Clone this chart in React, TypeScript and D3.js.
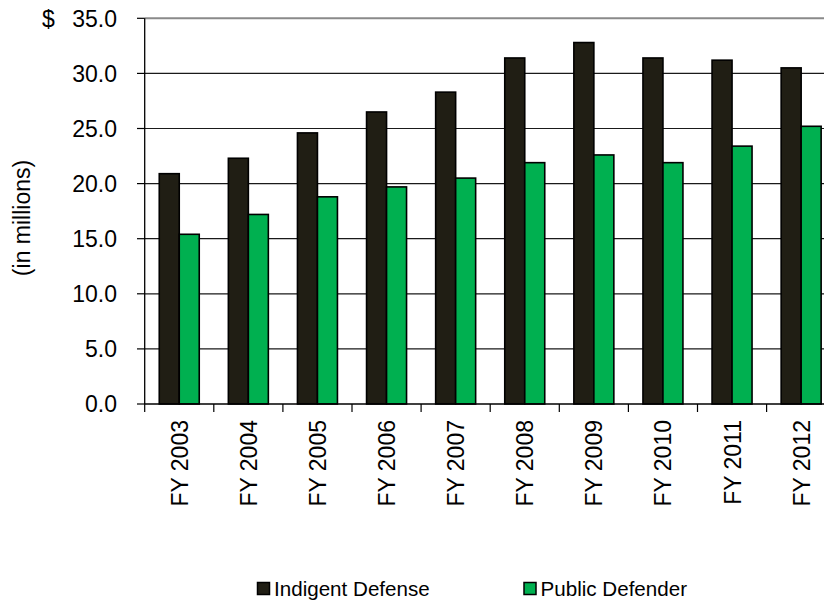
import React from "react";
import * as d3 from "d3";

const years = ["FY 2003", "FY 2004", "FY 2005", "FY 2006", "FY 2007", "FY 2008", "FY 2009", "FY 2010", "FY 2011", "FY 2012"];
const indigentDefense = [20.9, 22.3, 24.6, 26.5, 28.3, 31.4, 32.8, 31.4, 31.2, 30.5];
const publicDefender = [15.4, 17.2, 18.8, 19.7, 20.5, 21.9, 22.6, 21.9, 23.4, 25.2];
const seriesNames = ["Indigent Defense", "Public Defender"];
const seriesColors = ["#201e14", "#00b050"];
const yTicks = [0, 5, 10, 15, 20, 25, 30, 35];

const W = 824;
const H = 603;
const FONT = "'Liberation Sans', Arial, sans-serif";

export default function App() {
  const left = 144.7;
  const step = 69.1;
  const x0 = d3.scaleBand<string>().domain(years).range([left, left + step * years.length]).padding(0);
  const x1 = d3.scaleBand<string>().domain(seriesNames).range([0, x0.bandwidth()]).paddingInner(0).paddingOuter(0.728);
  const y = d3.scaleLinear().domain([0, 35]).range([404, 18.3]);
  const data = [indigentDefense, publicDefender];

  return (
    <svg width={W} height={H} style={{ position: "absolute", left: 0, top: 0, background: "#fff" }} fontFamily={FONT}>
      {/* gridlines */}
      {yTicks.filter((t) => t > 0 && t < 35).map((t) => (
        <line key={t} x1={left} x2={W} y1={y(t)} y2={y(t)} stroke="#1a1a1a" strokeWidth={1.2} />
      ))}
      {/* top border */}
      <line x1={left} x2={W} y1={y(35)} y2={y(35)} stroke="#8a8a8a" strokeWidth={2} />
      {/* bars */}
      {data.map((vals, si) =>
        vals.map((v, i) => (
          <rect
            key={`${si}-${i}`}
            x={(x0(years[i]) as number) + (x1(seriesNames[si]) as number)}
            y={y(v)}
            width={x1.bandwidth()}
            height={y(0) - y(v)}
            fill={seriesColors[si]}
            stroke="#000"
            strokeWidth={1.6}
          />
        ))
      )}
      {/* y axis */}
      <line x1={left} x2={left} y1={y(35)} y2={y(0)} stroke="#000" strokeWidth={1.3} />
      {yTicks.map((t) => (
        <g key={t}>
          <line x1={137} x2={left} y1={y(t)} y2={y(t)} stroke="#000" strokeWidth={1.2} />
          <text x={117} y={y(t) + 8.2} textAnchor="end" fontSize={23} fill="#000">
            {t.toFixed(1)}
          </text>
        </g>
      ))}
      <text x={42} y={26.5} fontSize={23} fill="#000">$</text>
      <text transform={`translate(30,218) rotate(-90)`} textAnchor="middle" fontSize={23} fill="#000">
        (in millions)
      </text>
      {/* x axis */}
      <line x1={left} x2={W} y1={y(0)} y2={y(0)} stroke="#000" strokeWidth={1.3} />
      {years.map((yr, i) => (
        <line key={yr} x1={(x0(yr) as number)} x2={(x0(yr) as number)} y1={y(0)} y2={y(0) + 8} stroke="#000" strokeWidth={1.2} />
      ))}
      {years.map((yr) => {
        const cx = (x0(yr) as number) + x0.bandwidth() / 2;
        return (
          <text key={yr} transform={`translate(${cx + 8.5},420) rotate(-90)`} textAnchor="end" fontSize={23} fill="#000">
            {yr}
          </text>
        );
      })}
      {/* legend */}
      {[{ sx: 257.5, tx: 274 }, { sx: 524, tx: 540.5 }].map((p, i) => (
        <g key={i}>
          <rect x={p.sx} y={582.5} width={12} height={12} fill={seriesColors[i]} stroke="#000" strokeWidth={1.5} />
          <text x={p.tx} y={595.5} fontSize={20.6} fill="#000">{seriesNames[i]}</text>
        </g>
      ))}
    </svg>
  );
}
